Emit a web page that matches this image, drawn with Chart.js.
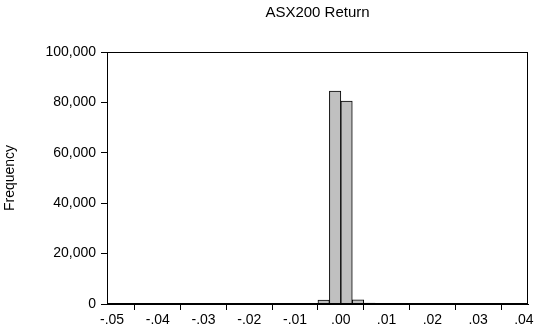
<!DOCTYPE html>
<html>
<head>
<meta charset="utf-8">
<script src="https://cdn.jsdelivr.net/npm/chart.js@4/dist/chart.umd.min.js"></script>
<style>
  html, body { margin: 0; padding: 0; background: #fff; }
</style>
</head>
<body>
<canvas id="chart" width="537" height="336"></canvas>
<script>
// histogram bins (width .0025), centre of each bin
const binCenters = [
  -0.04125, -0.03875, -0.03625, -0.03375, -0.03125, -0.02875, -0.02625, -0.02375,
  -0.02125, -0.01875, -0.01625, -0.01375, -0.01125, -0.00875, -0.00625, -0.00375,
  -0.00125, 0.00125, 0.00375, 0.00625, 0.00875, 0.01125, 0.01375, 0.01625,
  0.01875, 0.02125, 0.02375, 0.02625, 0.02875, 0.03125, 0.03375
];
const frequencies = [
  20, 15, 10, 5, 8, 10, 12, 15,
  18, 20, 25, 30, 40, 60, 250, 1600,
  84500, 80500, 1700, 350, 70, 40, 30, 20,
  15, 15, 10, 10, 8, 10, 8
];
const xTicks = [-0.05, -0.04, -0.03, -0.02, -0.01, 0, 0.01, 0.02, 0.03, 0.04];
const yTicks = [0, 20000, 40000, 60000, 80000, 100000];

const font = { family: "'Liberation Sans', Arial, sans-serif", size: 14 };

function fmtX(v) {
  const s = Math.abs(v).toFixed(2).replace(/^0/, '');
  return v < -1e-9 ? '-' + s : s;
}

// box round the plot area
const frame = {
  id: 'frame',
  afterDraw(chart) {
    const a = chart.chartArea;
    const ctx = chart.ctx;
    ctx.save();
    ctx.strokeStyle = '#000';
    ctx.lineWidth = 1;
    ctx.strokeRect(Math.round(a.left) + 0.5, Math.round(a.top) + 0.5,
      Math.round(a.right - a.left) - 1, Math.round(a.bottom - a.top) - 1);
    ctx.restore();
  }
};

new Chart(document.getElementById('chart'), {
  type: 'bar',
  data: {
    datasets: [{
      data: binCenters.map((x, i) => ({ x: x, y: frequencies[i] })),
      backgroundColor: '#c0c0c0',
      borderColor: '#000',
      borderWidth: 1,
      barPercentage: 1,
      categoryPercentage: 1
    }]
  },
  options: {
    responsive: false,
    animation: false,
    layout: { padding: { right: 9, left: 0, top: 0, bottom: 0 } },
    plugins: {
      legend: { display: false },
      tooltip: { enabled: false }
    },
    scales: {
      x: {
        type: 'linear',
        min: -0.0511,
        max: 0.0409,
        offset: false,
        afterBuildTicks(scale) { scale.ticks = xTicks.map(v => ({ value: v })); },
        afterFit(scale) { scale.height = 32; },
        grid: { drawOnChartArea: false, drawTicks: true, tickLength: 6, color: '#000' },
        border: { display: true, color: '#000' },
        ticks: {
          color: '#000',
          font: font,
          padding: 2,
          maxRotation: 0,
          autoSkip: false,
          callback: (v) => fmtX(v)
        }
      },
      // top axis only carries the chart title, centred over the plot
      top: {
        type: 'linear',
        position: 'top',
        min: -0.0511,
        max: 0.0409,
        afterFit(scale) { scale.height = 52; },
        grid: { display: false, drawTicks: false },
        border: { display: false },
        ticks: { display: false },
        title: {
          display: true,
          text: 'ASX200 Return',
          color: '#000',
          font: { family: font.family, size: 15 },
          align: 'center',
          padding: { top: 4, bottom: 29 }
        }
      },
      y: {
        min: 0,
        max: 100000,
        afterBuildTicks(scale) { scale.ticks = yTicks.map(v => ({ value: v })); },
        afterFit(scale) { scale.width = 107; },
        grid: { drawOnChartArea: false, drawTicks: true, tickLength: 6, color: '#000' },
        border: { display: true, color: '#000' },
        title: {
          display: true,
          text: 'Frequency',
          color: '#000',
          font: { family: font.family, size: 14 },
          padding: { top: 2, bottom: 2 }
        },
        ticks: {
          color: '#000',
          font: font,
          padding: 5,
          callback: (v) => v.toLocaleString('en-US')
        }
      }
    }
  },
  plugins: [frame]
});
</script>
</body>
</html>
